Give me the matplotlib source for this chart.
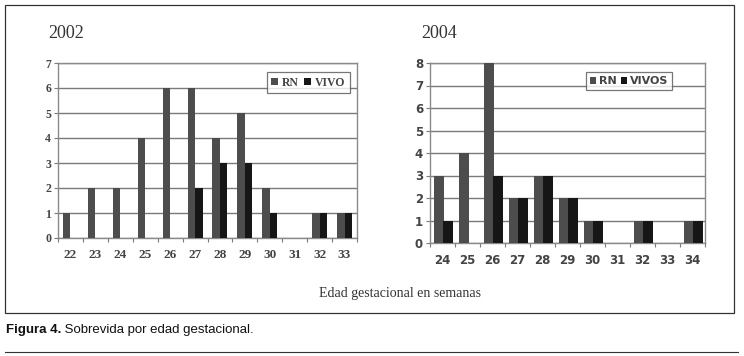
import numpy as np
import matplotlib
matplotlib.use('Agg')
import matplotlib.pyplot as plt
from matplotlib.patches import Rectangle
from matplotlib.lines import Line2D
from matplotlib.text import Annotation

# datos
weeks_02 = [22, 23, 24, 25, 26, 27, 28, 29, 30, 31, 32, 33]
rn_02 = [1, 2, 2, 4, 6, 6, 4, 5, 2, 0, 1, 1]
vivo_02 = [0, 0, 0, 0, 0, 2, 3, 3, 1, 0, 1, 1]

weeks_04 = [24, 25, 26, 27, 28, 29, 30, 31, 32, 33, 34]
rn_04 = [3, 4, 8, 2, 3, 2, 1, 0, 1, 0, 1]
vivo_04 = [1, 0, 3, 2, 3, 2, 1, 0, 1, 0, 1]

C_RN = '#4d4d4d'
C_VIVO = '#161616'
C_GRID = '#7a7a7a'

fig = plt.figure(figsize=(7.44, 3.56), dpi=100)

# marco exterior
fig.add_artist(Rectangle((5 / 744, 1 - 313 / 356), 729 / 744, 308 / 356,
                         transform=fig.transFigure, fill=False, ec='#333333', lw=0.9))
# línea inferior
fig.add_artist(Line2D([5 / 744, 738 / 744], [1 - 352 / 356] * 2,
                      transform=fig.transFigure, color='#333333', lw=0.8))


def draw(ax, weeks, rn, vivo, ymax, w, off_rn, off_v, family, weight, tsize, ysize, labels):
    x = np.arange(len(weeks))
    ax.bar(x + off_rn, rn, w, color=C_RN, zorder=3, label=labels[0])
    ax.bar(x + off_v, vivo, w, color=C_VIVO, zorder=3, label=labels[1])
    ax.set_xlim(-0.5, len(weeks) - 0.5)
    ax.set_ylim(0, ymax)
    ax.set_yticks(range(ymax + 1))
    ax.yaxis.grid(True, color=C_GRID, lw=1.0, zorder=0)
    ax.set_xticks(np.arange(len(weeks) + 1) - 0.5)
    ax.set_xticklabels([])
    ax.set_xticks(x, minor=True)
    ax.set_xticklabels([str(v) for v in weeks], minor=True,
                       family=family, weight=weight, fontsize=tsize, color='#444444')
    ax.tick_params(axis='x', which='major', length=3, color=C_GRID, direction='out')
    ax.tick_params(axis='x', which='minor', length=0, pad=8)
    ax.tick_params(axis='y', length=3, color=C_GRID, pad=2)
    for t in ax.get_yticklabels():
        t.set_family(family); t.set_weight(weight); t.set_fontsize(ysize)
        t.set_color('#444444')
    for s in ax.spines.values():
        s.set_color('#8a8a8a'); s.set_linewidth(1.0)
    ax.set_axisbelow(True)


ax1 = fig.add_axes([58 / 744, 1 - 238 / 356, 299 / 744, 175 / 356])
draw(ax1, weeks_02, rn_02, vivo_02, 7, 0.3, -0.15, 0.15,
     'Liberation Serif', 'bold', 9.5, 8.5, ['RN', 'VIVO'])
leg1 = ax1.legend(loc='upper right', bbox_to_anchor=(0.995, 0.98), ncol=2, frameon=True,
                  fancybox=False, handlelength=0.6, handleheight=0.6, handletextpad=0.3,
                  columnspacing=0.5, borderpad=0.35,
                  prop={'family': 'Liberation Serif', 'weight': 'bold', 'size': 8.5})
leg1.get_frame().set_edgecolor('#555555'); leg1.get_frame().set_linewidth(0.9)
for t in leg1.get_texts():
    t.set_color('#444444')

ax2 = fig.add_axes([430 / 744, 1 - 243 / 356, 275 / 744, 180 / 356])
draw(ax2, weeks_04, rn_04, vivo_04, 8, 0.4, -0.15, 0.2,
     'DejaVu Sans', 'bold', 8.5, 8.5, ['RN', 'VIVOS'])
leg2 = ax2.legend(loc='upper right', bbox_to_anchor=(0.9, 0.98), ncol=2, frameon=True,
                  fancybox=False, handlelength=0.6, handleheight=0.6, handletextpad=0.2,
                  columnspacing=0.4, borderpad=0.35,
                  prop={'family': 'DejaVu Sans', 'weight': 'bold', 'size': 8})
leg2.get_frame().set_edgecolor('#555555'); leg2.get_frame().set_linewidth(0.9)
for t in leg2.get_texts():
    t.set_color('#444444')

fig.text(48 / 744, 1 - 33 / 356, '2002', family='Liberation Serif', fontsize=13,
         color='#333333', va='center')
fig.text(421 / 744, 1 - 33 / 356, '2004', family='Liberation Serif', fontsize=13,
         color='#333333', va='center')
fig.text(400 / 744, 1 - 294 / 356, 'Edad gestacional en semanas', family='Liberation Serif',
         fontsize=10, color='#333333', ha='center', va='center')

cap = fig.text(6 / 744, 1 - 330 / 356, 'Figura 4.', family='Liberation Sans',
               weight='bold', fontsize=9.5, color='#111111', va='center')
fig.add_artist(Annotation(' Sobrevida por edad gestacional.', xy=(1, 0.5), xycoords=cap,
                          va='center', family='Liberation Sans', fontsize=9.5,
                          color='#111111'))

fig.savefig('out.png', dpi=100)
